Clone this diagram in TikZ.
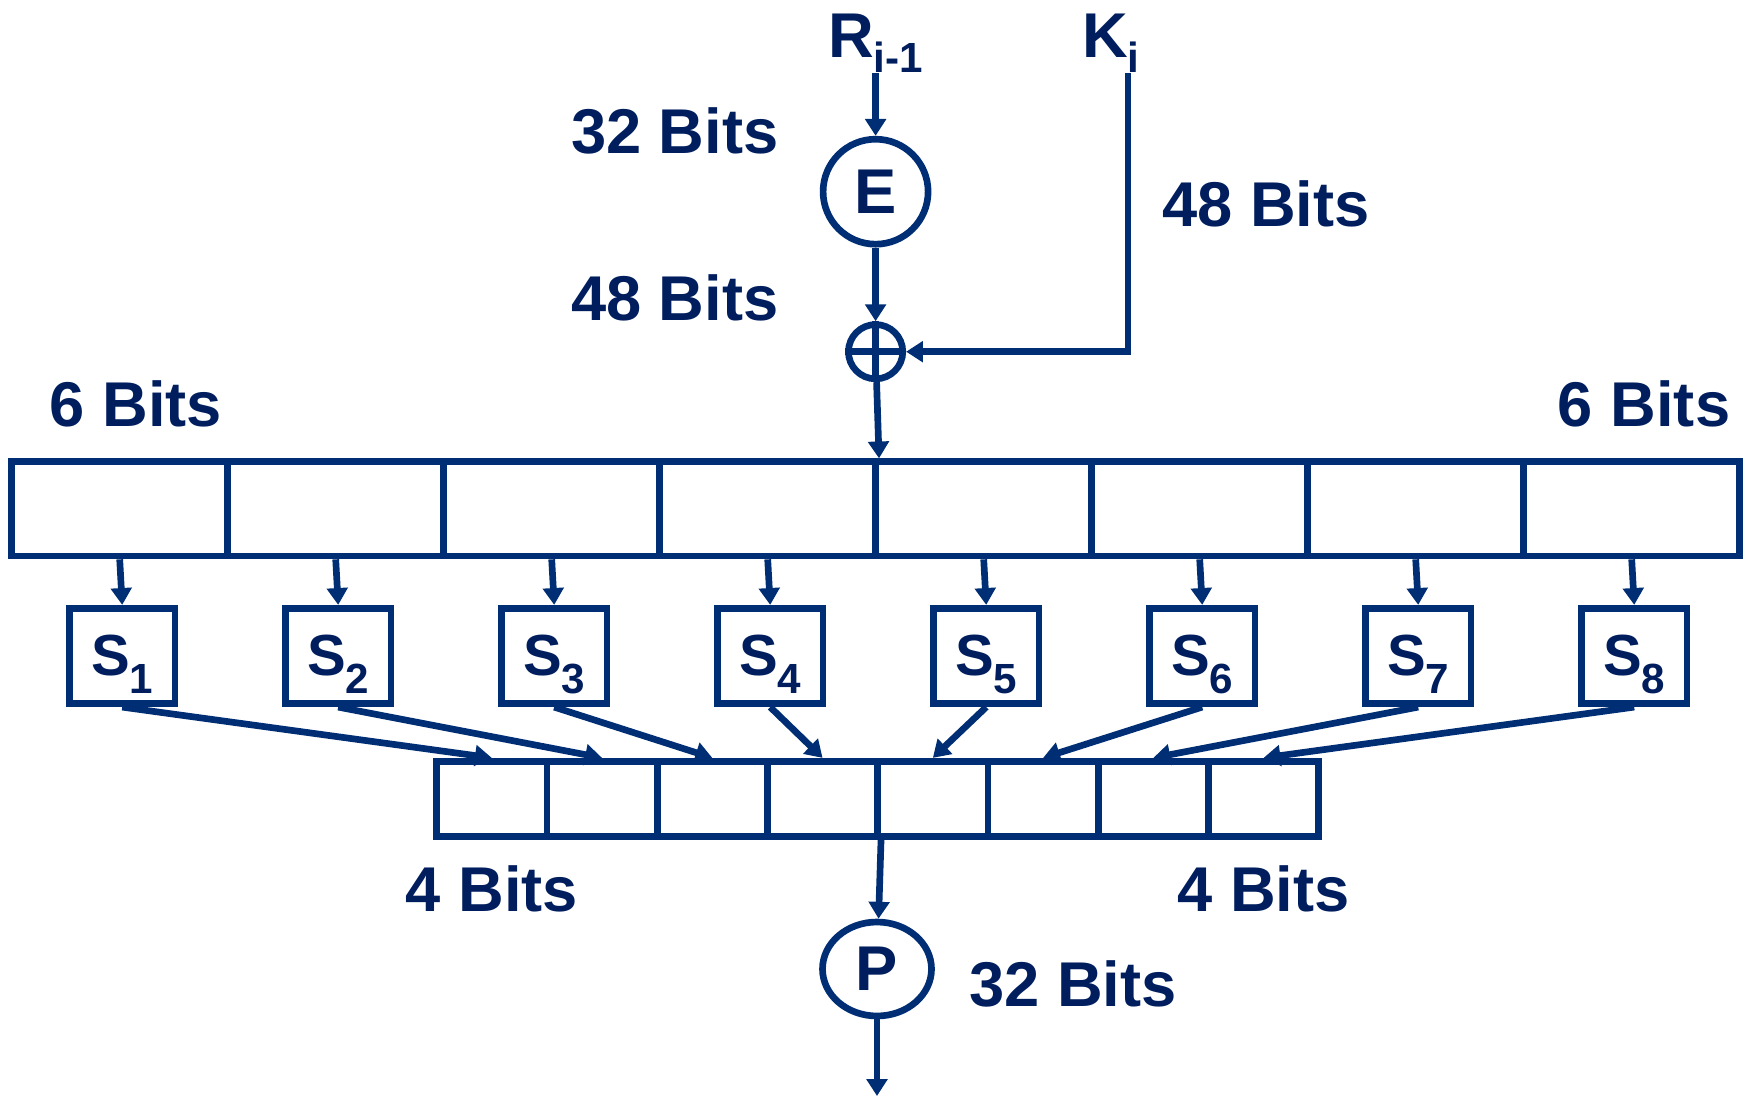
\documentclass[tikz,border=0pt]{standalone}
\usepackage{fontspec}
\setmainfont{Liberation Sans}
\usetikzlibrary{arrows.meta,shapes.geometric}
\definecolor{desline}{RGB}{0,46,116}
\definecolor{destext}{RGB}{0,30,94}
\newcommand{\lowidx}[2][-4pt]{\raisebox{#1}[0pt][0pt]{\fontsize{12}{12}\selectfont #2}}

\begin{document}
\begin{tikzpicture}[line width=1.9pt, color=desline,
    arr/.style={-{Triangle[length=4.8pt,width=5.8pt]}},
    lbl/.style={font=\bfseries\fontsize{18}{20}\selectfont, text=destext},
    cell/.style={draw, inner sep=0pt, minimum width=2.160cm, minimum height=0.943cm},
    half/.style={draw, inner sep=0pt, minimum width=1.1025cm, minimum height=0.751cm},
    sbox/.style={draw, text=destext, font=\bfseries\fontsize{16.5}{18}\selectfont, inner sep=0pt, minimum width=1.058cm, minimum height=0.955cm}]
        \useasboundingbox (0,0) rectangle (17.49,10.96);
        % inputs
        \node[lbl,anchor=base] (R) at (8.756,10.38) {R\lowidx{i-1}};
        \node[lbl,anchor=base] (K) at (11.11,10.38) {K\lowidx{i}};
        % expansion and key mixing
        \node[lbl,draw,circle,inner sep=0pt,minimum size=1.05cm] (E) at (8.756,9.043) {E};
        \node[draw,circle,inner sep=0pt,minimum size=0.543cm] (xor) at (8.756,7.443) {};
        \draw (xor.north) -- (xor.south) (xor.west) -- (xor.east);
        \draw[arr] (R) -- (E);
        \draw[arr] (E) -- (xor);
        \draw[arr] ([xshift=0.17cm]K.south) |- (xor.east);
        \node[lbl] (bitsR) at (6.748,9.655) {32 Bits};
        \node[lbl] (bitsE) at (6.748,7.982) {48 Bits};
        \node[lbl] (bitsK) at (12.66,8.919) {48 Bits};
        \node[lbl] (sixL) at (1.361,6.922) {6 Bits};
        \node[lbl] (sixR) at (16.441,6.922) {6 Bits};
        % 48 bit block, S-boxes, 32 bit block
        \foreach \i in {1,...,8} {
          \node[cell] (c\i) at ({0.117+2.160*(\i-0.5)},5.8715) {};
          \node[sbox] (s\i) at ({0.142+2.160*(\i-0.5)},4.40) {S\lowidx[-5pt]{\i}};
          \node[half] (b\i) at ({4.367+1.1025*(\i-0.5)},2.9725) {};
          \draw[arr] (c\i.south) -- (s\i.north);
          \draw[arr] (s\i.south) -- (b\i.north);
        }
        \draw[arr] (xor) -- (c4.north east);
        \node[lbl] (fourL) at (4.919,2.07) {4 Bits};
        \node[lbl] (fourR) at (12.637,2.07) {4 Bits};
        % permutation
        \node[lbl,draw,ellipse,inner sep=0pt,minimum width=1.09cm,minimum height=0.94cm] (P) at (8.77,1.27) {P};
        \coordinate (pout) at (8.77,0);
        \draw[arr] (b4.south east) -- (P);
        \draw[arr] (P) -- (pout);
        \node[lbl] (bitsP) at (10.73,1.122) {32 Bits};
      \end{tikzpicture}
\end{document}
